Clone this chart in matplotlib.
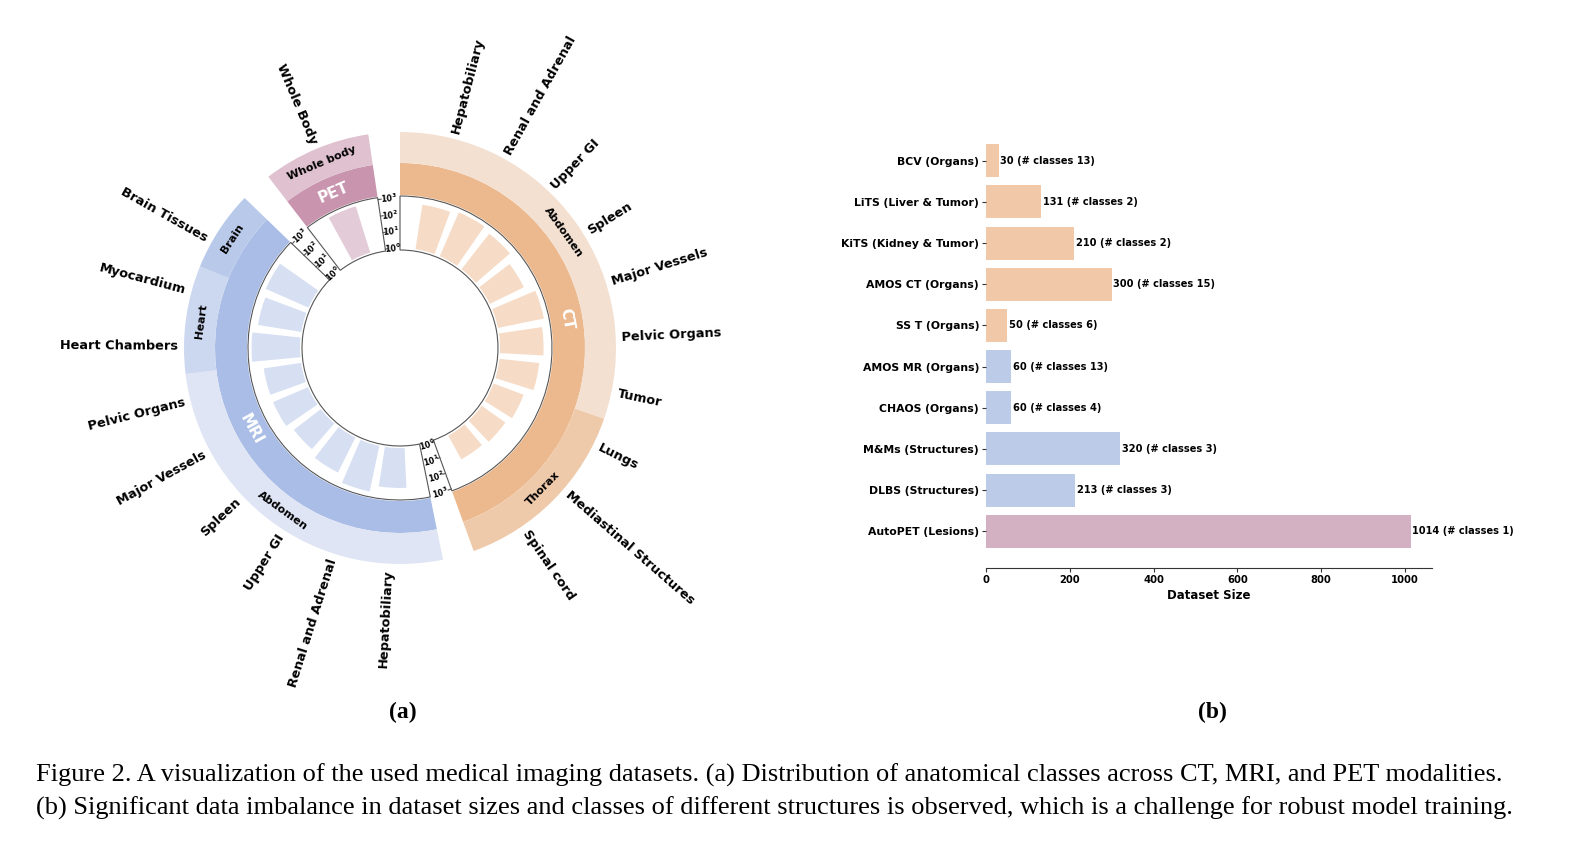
import numpy as np
import matplotlib.pyplot as plt

# ---- circular plot data (number of volumes per anatomical class, log scale) ----
ct_classes = ['Hepatobiliary', 'Renal and Adrenal', 'Upper GI', 'Spleen', 'Major Vessels',
              'Pelvic Organs', 'Tumor', 'Lungs', 'Mediastinal Structures', 'Spinal cord']
ct_counts = [500, 750, 500, 190, 650, 410, 250, 85, 55, 42]
ct_regions = ['Abdomen', 'Thorax']
ct_region_sizes = [7, 3]

mri_classes = ['Hepatobiliary', 'Renal and Adrenal', 'Upper GI', 'Spleen', 'Major Vessels',
               'Pelvic Organs', 'Heart Chambers', 'Myocardium', 'Brain Tissues']
mri_counts = [250, 630, 220, 110, 190, 185, 800, 425, 630]
mri_regions = ['Abdomen', 'Heart', 'Brain']
mri_region_sizes = [6, 2, 1]

pet_classes = ['Whole Body']
pet_counts = [810]
pet_regions = ['Whole body']
pet_region_sizes = [1]

# ---- bar chart data ----
datasets = ['BCV (Organs)', 'LiTS (Liver & Tumor)', 'KiTS (Kidney & Tumor)', 'AMOS CT (Organs)',
            'SS T (Organs)', 'AMOS MR (Organs)', 'CHAOS (Organs)', 'M&Ms (Structures)',
            'DLBS (Structures)', 'AutoPET (Lesions)']
dataset_sizes = [30, 131, 210, 300, 50, 60, 60, 320, 213, 1014]
n_classes = [13, 2, 2, 15, 6, 13, 4, 3, 3, 1]
dataset_modality = ['CT', 'CT', 'CT', 'CT', 'CT', 'MRI', 'MRI', 'MRI', 'MRI', 'PET']

colors = {
    'CT': dict(bar='#f6dcc7', ring='#ecb88d', region=['#f3e0d1', '#efcaaa'], hbar='#f1c9a8'),
    'MRI': dict(bar='#d7e0f3', ring='#a9bde6', region=['#dfe5f4', '#ccd7f0', '#b9c9ea'], hbar='#bccbe8'),
    'PET': dict(bar='#e3cbd8', ring='#c994ae', region=['#dfc1cf'], hbar='#d3b1c3'),
}

SLOT = 14.55      # degrees per class slot
GAP = 8.45        # degrees between modalities
R_IN, R_OUT = 98, 152
R_BASE = 100
DECADE = 16.67
RING = (153, 185)
REGION = (185, 216)
R_LABEL = 222
LINE = '#555555'


def tangent_rot(b):
    if 90 < b < 270:
        return 180 - b
    return -b


def radial_rot(b):
    t = (90 - b + 180) % 360 - 180
    if -90 <= t <= 90:
        return t, 'left'
    return (t - 180 if t > 0 else t + 180), 'right'


fig = plt.figure(figsize=(15.7, 8.55), dpi=100)

ax = fig.add_axes([100 / 1570, (855 - 348 - 300) / 855, 600 / 1570, 600 / 855], projection='polar')
ax.set_theta_zero_location('N')
ax.set_theta_direction(-1)
ax.set_ylim(0, 300)
ax.set_axis_off()

groups = [
    ('CT', ct_classes, ct_counts, ct_regions, ct_region_sizes),
    ('MRI', mri_classes, mri_counts, mri_regions, mri_region_sizes),
    ('PET', pet_classes, pet_counts, pet_regions, pet_region_sizes),
]

start = 0.0
for mod, classes, counts, regions, sizes in groups:
    col = colors[mod]
    n = len(classes)
    span = (n + 1) * SLOT
    end = start + span
    mid = start + span / 2
    centers = start + SLOT * (np.arange(n) + 1)

    # bars
    heights = np.log10(counts) * DECADE
    ax.bar(np.deg2rad(centers), heights, width=np.deg2rad(SLOT * 0.78), bottom=R_BASE,
           color=col['bar'], edgecolor='none')
    # box around bars
    ax.bar(np.deg2rad(mid), R_OUT - R_IN, width=np.deg2rad(span), bottom=R_IN,
           fill=False, edgecolor=LINE, linewidth=0.8)
    # modality ring
    ax.bar(np.deg2rad(mid), RING[1] - RING[0], width=np.deg2rad(span), bottom=RING[0],
           color=col['ring'], edgecolor='none')
    ax.text(np.deg2rad(mid), sum(RING) / 2, mod, rotation=tangent_rot(mid), rotation_mode='anchor',
            ha='center', va='center', fontsize=11, fontweight='bold', color='white')

    # region ring
    cum = np.cumsum(sizes)
    edges = [start] + list(start + SLOT * (cum[:-1] + 0.5)) + [end]
    for i, reg in enumerate(regions):
        a, b = edges[i], edges[i + 1]
        ax.bar(np.deg2rad((a + b) / 2), REGION[1] - REGION[0], width=np.deg2rad(b - a),
               bottom=REGION[0], color=col['region'][i], edgecolor='none')
        ax.text(np.deg2rad((a + b) / 2), sum(REGION) / 2, reg, rotation=tangent_rot((a + b) / 2),
                rotation_mode='anchor', ha='center', va='center', fontsize=8, fontweight='bold')

    # class labels
    for c, name in zip(centers, classes):
        rot, ha = radial_rot(c)
        ax.text(np.deg2rad(c), R_LABEL, name, rotation=rot, rotation_mode='anchor',
                ha=ha, va='center', fontsize=9.3, fontweight='bold')

    # log axis in the gap after each group
    gm = end + GAP / 2
    for k in range(4):
        r = R_BASE + k * DECADE
        ax.plot(np.deg2rad([end, end + 1.2]), [r, r], color=LINE, lw=0.8)
        ax.text(np.deg2rad(gm), r, r'$\mathbf{10^{%d}}$' % k, rotation=tangent_rot(gm),
                rotation_mode='anchor', ha='center', va='center', fontsize=5.8)

    start = end + GAP

# ---- bar chart ----
bx = fig.add_axes([986 / 1570, (855 - 568) / 855, 446 / 1570, 444 / 855])
y = np.arange(len(datasets))
bx.barh(y, dataset_sizes, height=0.8, color=[colors[m]['hbar'] for m in dataset_modality])
bx.invert_yaxis()
bx.set_yticks(y)
bx.set_yticklabels(datasets, fontsize=7.8, fontweight='bold')
for yi, s, c in zip(y, dataset_sizes, n_classes):
    bx.text(s + 4, yi, f'{s} (# classes {c})', ha='left', va='center', fontsize=7.1, fontweight='bold')
bx.set_xticks([0, 200, 400, 600, 800, 1000])
bx.set_xticklabels(['0', '200', '400', '600', '800', '1000'], fontsize=7.2, fontweight='bold')
bx.set_xlabel('Dataset Size', fontsize=8.5, fontweight='bold', labelpad=3)
bx.tick_params(axis='y', length=3, pad=2, color='#333333')
bx.tick_params(axis='x', length=3, pad=2, color='#333333')
for side in ['top', 'right', 'left']:
    bx.spines[side].set_visible(False)
bx.spines['bottom'].set_color('#333333')

# ---- panel letters and caption ----
fig.text(403 / 1570, 1 - 712 / 855, '(a)', ha='center', va='center', fontsize=17,
         fontweight='bold', family='Liberation Serif')
fig.text(1212 / 1570, 1 - 712 / 855, '(b)', ha='center', va='center', fontsize=17,
         fontweight='bold', family='Liberation Serif')
cap1 = ('Figure 2. A visualization of the used medical imaging datasets. (a) Distribution of anatomical '
        'classes across CT, MRI, and PET modalities.')
cap2 = ('(b) Significant data imbalance in dataset sizes and classes of different structures is observed, '
        'which is a challenge for robust model training.')
fig.text(36 / 1570, 1 - 775 / 855, cap1, ha='left', va='center', fontsize=19, family='Liberation Serif')
fig.text(36 / 1570, 1 - 808 / 855, cap2, ha='left', va='center', fontsize=19, family='Liberation Serif')

fig.savefig('out.png', dpi=100)
